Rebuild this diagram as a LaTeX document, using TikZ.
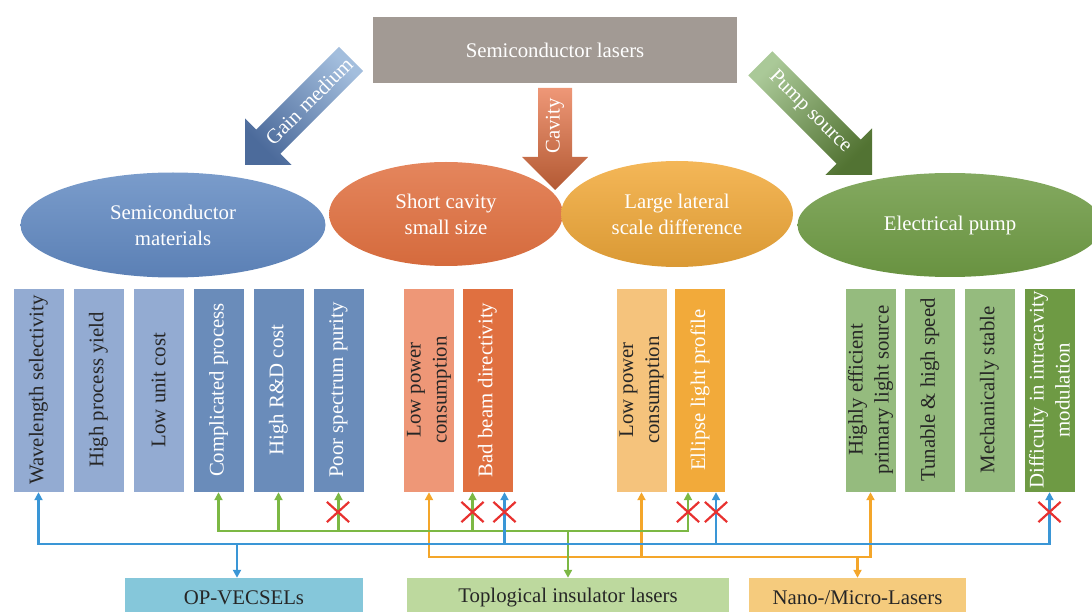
\documentclass[tikz,border=0pt]{standalone}
\usepackage{fontspec}
\setmainfont{Liberation Serif}
\usetikzlibrary{arrows.meta, shapes.geometric, shapes.misc, calc, positioning}
\definecolor{topgray}{HTML}{A29A94}
\definecolor{lightblue}{HTML}{93ABD2}
\definecolor{darkblue}{HTML}{6A8CBA}
\definecolor{lightorange}{HTML}{EE9777}
\definecolor{darkorange}{HTML}{E07040}
\definecolor{lightyellow}{HTML}{F5C37C}
\definecolor{darkyellow}{HTML}{F2AA3A}
\definecolor{lightgreen}{HTML}{95BB7E}
\definecolor{darkgreen}{HTML}{6E9A44}
\definecolor{ovalbluetop}{HTML}{7A9CCB}
\definecolor{ovalbluebot}{HTML}{5B80B5}
\definecolor{gainlight}{HTML}{A3BEDD}
\definecolor{gaindark}{HTML}{4C6B9B}
\definecolor{opcol}{HTML}{85C7DA}
\definecolor{topocol}{HTML}{BDD99E}
\definecolor{nanocol}{HTML}{F5CB7D}
\definecolor{linkblue}{HTML}{3A96D6}
\definecolor{linkgreen}{HTML}{7CB844}
\definecolor{linkorange}{HTML}{F4A62A}
\definecolor{crossred}{HTML}{E8312F}
\newcommand{\featbox}[5]{
    \node[featbox, fill=#3, text=#4] (#1) at (#2, 390) {#5};
}
\newcommand{\bigarrow}[6]{
    \begin{scope}[shift={(#1)}, rotate=#2]
    \shade[top color=#4, bottom color=#5, shading angle=#6]
    (0,0) -- (-33,-33) -- (-17,-33) -- (-17,-#3) -- (17,-#3) -- (17,-33) -- (33,-33) -- cycle;
    \end{scope}
}
\tikzset{
    txt/.style={font=\fontsize{20.8}{26}\selectfont},
    topbox/.style={txt, fill=topgray, text=white, minimum width=364pt, minimum height=66pt},
    oval/.style={txt, ellipse, text=white, align=center, inner sep=0pt},
    featbox/.style={txt, rotate=90, minimum width=204pt, minimum height=51pt, inner sep=2pt, align=center, draw=white, thin},
    endbox/.style={txt, minimum height=40pt, text=black!85},
    link/.style={line width=2.5pt, arrows={-Triangle[length=8pt, width=8pt]}},
    linkboth/.style={line width=2.5pt, arrows={Triangle[length=8pt, width=8pt]-Triangle[length=8pt, width=8pt]}},
    redx/.style={cross out, draw=crossred, line width=2.2pt, minimum width=20pt, minimum height=18pt, inner sep=0pt}
}
\begin{document}
\begin{tikzpicture}[x=1pt, y=-1pt]
\useasboundingbox (0,0) rectangle (1092,612);
\node[topbox] (sl) at (555,50) {Semiconductor lasers};

\node[oval, minimum width=305pt, minimum height=105pt, top color=ovalbluetop, bottom color=ovalbluebot] (sm) at (173,225) {Semiconductor\\materials};
\node[oval, minimum width=234pt, minimum height=104pt, top color=darkorange!85!white, bottom color=darkorange!95!black] (sc) at (446,214) {Short cavity\\small size};
\node[oval, minimum width=232pt, minimum height=106pt, top color=darkyellow!85!white, bottom color=darkyellow!90!black] (ll) at (677,214) {Large lateral\\scale difference};
\node[oval, minimum width=305pt, minimum height=104pt, top color=darkgreen!85!white, bottom color=darkgreen!95!black] (ep) at (950,225) {Electrical pump};

\bigarrow{245,165}{-45}{150}{gainlight}{gaindark}{-45}
\bigarrow{555,190}{0}{102}{lightorange}{darkorange!80!black}{0}
\bigarrow{872,175}{45}{158}{lightgreen!80!white}{darkgreen!75!black}{45}
\node[txt, text=white, rotate=45] (gm) at (309,101) {Gain medium};
\node[txt, text=white, rotate=90] (cv) at (555,126) {Cavity};
\node[txt, text=white, rotate=-45] (ps) at (810,112) {Pump source};

\featbox{b1}{38.5}{lightblue}{black!85}{Wavelength selectivity}
\featbox{b2}{98.5}{lightblue}{black!85}{High process yield}
\featbox{b3}{158.5}{lightblue}{black!85}{Low unit cost}
\featbox{b4}{218.5}{darkblue}{white}{Complicated process}
\featbox{b5}{278.5}{darkblue}{white}{High R\&D cost}
\featbox{b6}{338.5}{darkblue}{white}{Poor spectrum purity}
\featbox{b7}{429}{lightorange}{black!85}{Low power\\consumption}
\featbox{b8}{487.5}{darkorange}{white}{Bad beam directivity}
\featbox{b9}{641.5}{lightyellow}{black!85}{Low power\\consumption}
\featbox{b10}{700}{darkyellow}{white}{Ellipse light profile}
\featbox{b11}{870.5}{lightgreen}{black!85}{Highly efficient\\primary light source}
\featbox{b12}{930}{lightgreen}{black!85}{Tunable \& high speed}
\featbox{b13}{989.5}{lightgreen}{black!85}{Mechanically stable}
\featbox{b14}{1049.5}{darkgreen}{white}{Difficulty in intracavity\\modulation}

\node[endbox, fill=opcol, minimum width=238pt] (op) at (244,598) {OP-VECSELs};
\node[endbox, fill=topocol, minimum width=322pt] (tp) at (568,598) {Toplogical insulator lasers};
\node[endbox, fill=nanocol, minimum width=217pt] (nm) at (857.5,598) {Nano-/Micro-Lasers};

\draw[linkboth, linkorange] (b7.west) -- ++(0,65) -| (b11.west);
\draw[link, linkorange] ($(b9.west)+(0,65)$) -- (b9.west);
\draw[link, linkorange] ($(nm.north)+(0,-21)$) -- (nm.north);

\draw[linkboth, linkgreen] (b4.west) -- ++(0,39) -| ($(b10.west)+(-12,0)$);
\draw[link, linkgreen] ($(b5.west)+(0,39)$) -- (b5.west);
\draw[link, linkgreen] ($(b6.west)+(0,39)$) -- (b6.west);
\draw[link, linkgreen] ($(b8.west)+(-15,39)$) -- ($(b8.west)+(-15,0)$);
\draw[link, linkgreen] ($(tp.north)+(0,-47)$) -- (tp.north);

\draw[linkboth, linkblue] (b1.west) -- ++(0,52) -| (b14.west);
\draw[link, linkblue] ($(b8.west)+(17,52)$) -- ($(b8.west)+(17,0)$);
\draw[link, linkblue] ($(b10.west)+(16,52)$) -- ($(b10.west)+(16,0)$);
\draw[link, linkblue] ($(op.north)+(-7,-34)$) -- ($(op.north)+(-7,0)$);

\node[redx] (x1) at (338,512) {};
\node[redx] (x2) at (472.5,512) {};
\node[redx] (x3) at (504.5,512) {};
\node[redx] (x4) at (688,512) {};
\node[redx] (x5) at (716,512) {};
\node[redx] (x6) at (1049.5,512) {};
\end{tikzpicture}
\end{document}
